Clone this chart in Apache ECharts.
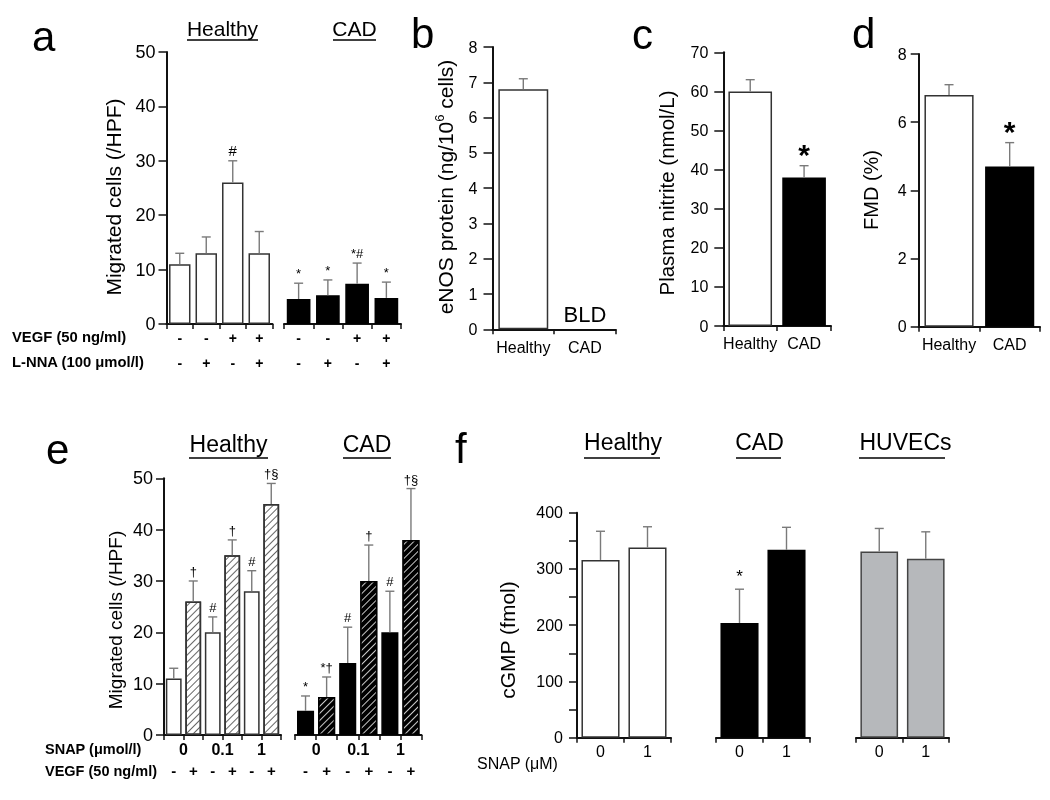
<!DOCTYPE html>
<html><head><meta charset="utf-8">
<script src="https://cdn.jsdelivr.net/npm/echarts@6/dist/echarts.min.js"></script>
<style>html,body{margin:0;padding:0;background:#fff}#c{width:1050px;height:800px;will-change:transform}</style>
</head><body><div id="c"></div>
<script>
// ---------------- DATA ----------------
// Panel a: migration, L-NNA inhibition
const aVegf = ['-', '-', '+', '+'];
const aLnna = ['-', '+', '-', '+'];
const aHealthy = [11, 13, 26, 13];
const aHealthyTop = [13, 16, 30, 17];
const aHealthyMarks = ['', '', '#', ''];
const aCad = [4.6, 5.3, 7.4, 4.8];
const aCadTop = [7.5, 8.1, 11.2, 7.7];
const aCadMarks = ['*', '*', '*#', '*'];
// Panel b: eNOS protein
const bGroups = ['Healthy', 'CAD'];
const bValues = [6.8, null];
const bTop = [7.1, null];
const bMarks = ['', 'BLD'];
// Panel c: plasma nitrite
const cGroups = ['Healthy', 'CAD'];
const cValues = [60, 38];
const cTop = [63, 41];
const cMarks = ['', '*'];
// Panel d: FMD
const dGroups = ['Healthy', 'CAD'];
const dValues = [6.8, 4.7];
const dTop = [7.1, 5.4];
const dMarks = ['', '*'];
// Panel e: SNAP / VEGF migration
const eSnap = ['0', '0.1', '1'];
const eVegf = ['-', '+', '-', '+', '-', '+'];
const eHealthy = [11, 26, 20, 35, 28, 45];
const eHealthyTop = [13, 30, 23, 38, 32, 49];
const eHealthyMarks = ['', '\u2020', '#', '\u2020', '#', '\u2020\u00a7'];
const eCad = [4.7, 7.4, 14, 30, 20, 38];
const eCadTop = [7.6, 11.3, 21, 37, 28, 48];
const eCadMarks = ['*', '*\u2020', '#', '\u2020', '#', '\u2020\u00a7'];
// Panel f: cGMP
const fSnap = ['0', '1'];
const fHealthy = [316, 338];
const fHealthyTop = [367, 375];
const fCad = [204, 334];
const fCadTop = [264, 374];
const fCadMarks = ['*', ''];
const fHuvec = [331, 318];
const fHuvecTop = [372, 366];
const fNoMarks = ['', ''];

// ---------------- STYLE ----------------
const FONT = '"Liberation Sans", Arial, Helvetica, sans-serif';
const AX = '#111';
const ERR = '#7a7a7a';
const WHITE = { color: '#ffffff', borderColor: '#333', borderWidth: 1.5 };
const BLACK = { color: '#000000', borderColor: '#000', borderWidth: 1.5 };
const GRAY = { color: '#b6b8bb', borderColor: '#444', borderWidth: 1.5 };
const hatchLight = { symbol: 'rect', symbolSize: 1, dashArrayX: [1, 0], dashArrayY: [1, 3.6], rotation: -Math.PI / 4, color: '#666' };
const hatchDark = { symbol: 'rect', symbolSize: 1, dashArrayX: [1, 0], dashArrayY: [1, 3.6], rotation: -Math.PI / 4, color: '#c8c8c8' };

// plot boxes [x0, x1, yTop, yBottom]
const boxes = [
  [166.5, 272.5, 52, 324],     // 0 a healthy
  [284, 401, 52, 324],         // 1 a CAD
  [492.5, 615.7, 47, 329.3],   // 2 b
  [723.3, 831, 52.3, 326],     // 3 c
  [918.7, 1040, 54, 326.7],    // 4 d
  [164, 281, 478.3, 735],      // 5 e healthy
  [295, 421.5, 478.3, 735],    // 6 e CAD
  [577, 671, 512.7, 737.7],    // 7 f healthy
  [716, 810, 512.7, 737.7],    // 8 f CAD
  [856, 949, 512.7, 737.7]     // 9 f HUVECs
];
const grid = boxes.map(b => ({ left: b[0], top: b[2], width: b[1] - b[0], height: b[3] - b[2] }));

function xCat(gi, labels, labelOpt) {
  return {
    type: 'category', gridIndex: gi, position: 'bottom',
    data: labels.map((l, i) => 'k' + gi + '_' + i),
    boundaryGap: true,
    axisLine: { show: true, lineStyle: { color: AX, width: 2 } },
    axisTick: { show: true, interval: 0, length: 5, lineStyle: { color: AX, width: 1.5 } },
    axisLabel: Object.assign({ show: true, interval: 0, color: '#000', fontFamily: FONT,
      formatter: (v, i) => labels[i] }, labelOpt || {}),
    splitLine: { show: false }
  };
}
function xLabelsOnly(gi, labels, labelOpt) {
  return {
    type: 'category', gridIndex: gi, position: 'bottom',
    data: labels.map((l, i) => 's' + gi + '_' + i),
    axisLine: { show: false }, axisTick: { show: false }, splitLine: { show: false },
    axisLabel: Object.assign({ show: true, interval: 0, color: '#000', fontFamily: FONT,
      formatter: (v, i) => labels[i] }, labelOpt || {})
  };
}
function yVal(gi, min, max, interval, show, opt) {
  return Object.assign({
    type: 'value', gridIndex: gi, min, max, interval, show,
    axisLine: { show: true, lineStyle: { color: AX, width: 2 } },
    axisTick: { show: true, length: 8, lineStyle: { color: AX, width: 1.5 } },
    axisLabel: { show: true, color: '#000', fontFamily: FONT, fontSize: 16, margin: 12 },
    splitLine: { show: false }
  }, opt || {});
}

function bars(xi, yi, values, styles, hatchFlags, hatch) {
  return {
    type: 'bar', xAxisIndex: xi, yAxisIndex: yi, barCategoryGap: '19%', silent: true,
    data: values.map((v, i) => {
      const st = Array.isArray(styles) ? styles[i] : styles;
      const it = Object.assign({}, st);
      if (hatchFlags && hatchFlags[i]) it.decal = hatch;
      return { value: v, itemStyle: it };
    })
  };
}
function errs(xi, yi, values, tops, marks, ms) {
  return {
    type: 'custom', xAxisIndex: xi, yAxisIndex: yi, z: 10, silent: true,
    data: values.map((v, i) => [i, v == null ? 0 : v, tops[i] == null ? NaN : tops[i]]),
    renderItem: (params, api) => {
      const idx = params.dataIndex;
      const x = api.coord([api.value(0), 0])[0];
      const yv = api.coord([api.value(0), api.value(1)])[1];
      const t = api.value(2);
      const ch = [];
      let yTop = yv;
      if (!isNaN(t)) {
        const yt = api.coord([api.value(0), t])[1];
        ch.push({ type: 'line', shape: { x1: x, y1: yv, x2: x, y2: yt }, style: { stroke: ERR, lineWidth: 1.4 } });
        ch.push({ type: 'line', shape: { x1: x - 4.5, y1: yt, x2: x + 4.5, y2: yt }, style: { stroke: ERR, lineWidth: 1.4 } });
        yTop = yt;
      }
      const m = marks && marks[idx];
      if (m) {
        ch.push({ type: 'text', x: x, y: yTop - ms.gap, style: {
          text: m, align: 'center', textAlign: 'center', verticalAlign: 'bottom', textVerticalAlign: 'bottom',
          fontSize: ms.size, fontFamily: FONT, fontWeight: ms.weight || 'normal', fill: '#000' } });
      }
      return { type: 'group', children: ch };
    }
  };
}

const xAxis = [
  xCat(0, aVegf.map((v, i) => v + '\n' + aLnna[i]), { fontSize: 14, fontWeight: 'bold', lineHeight: 25, margin: 1 }),
  xCat(1, aVegf.map((v, i) => v + '\n' + aLnna[i]), { fontSize: 14, fontWeight: 'bold', lineHeight: 25, margin: 1 }),
  xCat(2, bGroups, { fontSize: 16, margin: 10 }),
  xCat(3, cGroups, { fontSize: 16, margin: 9 }),
  xCat(4, dGroups, { fontSize: 16, margin: 10 }),
  xCat(5, eVegf, { fontSize: 15, fontWeight: 'bold', margin: 28 }),
  xCat(6, eVegf, { fontSize: 15, fontWeight: 'bold', margin: 28 }),
  xCat(7, fSnap, { fontSize: 16, margin: 6 }),
  xCat(8, fSnap, { fontSize: 16, margin: 6 }),
  xCat(9, fSnap, { fontSize: 16, margin: 6 }),
  xLabelsOnly(5, eSnap, { fontSize: 16, fontWeight: 'bold', margin: 6 }),
  xLabelsOnly(6, eSnap, { fontSize: 16, fontWeight: 'bold', margin: 6 })
];
const bigLab = { show: true, color: '#000', fontFamily: FONT, fontSize: 18, margin: 11 };
const tick9 = { show: true, length: 9, lineStyle: { color: AX, width: 1.5 } };
const yAxis = [
  yVal(0, 0, 50, 10, true, { axisLabel: bigLab }),
  yVal(1, 0, 50, 10, false),
  yVal(2, 0, 8, 1, true, { axisTick: tick9, axisLabel: { color: '#000', fontFamily: FONT, fontSize: 16, margin: 15 } }),
  yVal(3, 0, 70, 10, true, { axisTick: tick9, axisLabel: { color: '#000', fontFamily: FONT, fontSize: 16, margin: 15 } }),
  yVal(4, 0, 8, 2, true, { axisLabel: { color: '#000', fontFamily: FONT, fontSize: 16, margin: 12 } }),
  yVal(5, 0, 50, 10, true, { axisLabel: bigLab }),
  yVal(6, 0, 50, 10, false),
  yVal(7, 0, 400, 100, true, { minorTick: { show: true, splitNumber: 2, length: 8, lineStyle: { color: AX, width: 1.5 } }, axisLabel: { color: '#000', fontFamily: FONT, fontSize: 16, margin: 14 } }),
  yVal(8, 0, 400, 100, false),
  yVal(9, 0, 400, 100, false)
];

const eHatch = eVegf.map(v => v === '+');
const small = { size: 13, gap: 3 };
const bigStar = { size: 30, gap: -4, weight: 'bold' };
const series = [
  bars(0, 0, aHealthy, WHITE), errs(0, 0, aHealthy, aHealthyTop, aHealthyMarks, { size: 15, gap: 3 }),
  bars(1, 1, aCad, BLACK), errs(1, 1, aCad, aCadTop, aCadMarks, small),
  bars(2, 2, bValues, WHITE), errs(2, 2, bValues, bTop, bMarks, { size: 22, gap: 4 }),
  bars(3, 3, cValues, [WHITE, BLACK]), errs(3, 3, cValues, cTop, cMarks, bigStar),
  bars(4, 4, dValues, [WHITE, BLACK]), errs(4, 4, dValues, dTop, dMarks, bigStar),
  bars(5, 5, eHealthy, WHITE, eHatch, hatchLight), errs(5, 5, eHealthy, eHealthyTop, eHealthyMarks, small),
  bars(6, 6, eCad, BLACK, eHatch, hatchDark), errs(6, 6, eCad, eCadTop, eCadMarks, small),
  bars(7, 7, fHealthy, WHITE), errs(7, 7, fHealthy, fHealthyTop, fNoMarks, small),
  bars(8, 8, fCad, BLACK), errs(8, 8, fCad, fCadTop, fCadMarks, { size: 17, gap: 4 }),
  bars(9, 9, fHuvec, GRAY), errs(9, 9, fHuvec, fHuvecTop, fNoMarks, small)
];

// ---------------- TEXT (graphic) ----------------
function txt(text, x, y, size, opt) {
  return Object.assign({ type: 'text', x, y, silent: true, style: Object.assign({
    text, fontSize: size, fontFamily: FONT, fill: '#000',
    align: 'center', textAlign: 'center', verticalAlign: 'middle', textVerticalAlign: 'middle' }, (opt && opt.style) || {}) },
    opt && opt.el || {});
}
function ul(x1, x2, y) {
  return { type: 'line', silent: true, shape: { x1, y1: y, x2, y2: y }, style: { stroke: '#000', lineWidth: 1.6 } };
}
const left = { style: { align: 'left', textAlign: 'left' } };
const leftBold = { style: { align: 'left', textAlign: 'left', fontWeight: 'bold' } };
const vert = { el: { rotation: Math.PI / 2 } };
const graphic = [
  // panel letters
  txt('a', 32, 36, 42, left), txt('b', 411, 33, 42, left), txt('c', 632, 34, 42, left),
  txt('d', 852, 33, 42, left), txt('e', 46, 449, 42, left), txt('f', 455, 448, 42, left),
  // group titles
  txt('Healthy', 222.5, 28, 21), ul(187, 258, 40),
  txt('CAD', 354.5, 28, 21), ul(333, 376, 40),
  txt('Healthy', 228.5, 444, 23), ul(189, 268, 458),
  txt('CAD', 367, 444, 23), ul(343, 391, 458),
  txt('Healthy', 623, 442, 23), ul(584, 660, 458),
  txt('CAD', 759.5, 442, 23), ul(736, 781, 458),
  txt('HUVECs', 905.5, 442, 23), ul(859, 945, 458),
  // row labels
  txt('VEGF (50 ng/ml)', 12, 337, 14.8, leftBold),
  txt('L-NNA (100 \u03bcmol/l)', 12, 362, 14.8, leftBold),
  txt('SNAP (\u03bcmol/l)', 45, 749, 14.5, leftBold),
  txt('VEGF (50 ng/ml)', 45, 771, 14.5, leftBold),
  txt('SNAP (\u03bcM)', 477, 763, 16, left),
  // y-axis titles
  txt('Migrated cells (/HPF)', 113, 197, 21, vert),
  { type: 'text', x: 445, y: 187, rotation: Math.PI / 2, silent: true, style: {
      text: 'eNOS protein (ng/10{s|6} cells)', fontSize: 21, fontFamily: FONT, fill: '#000',
      align: 'center', textAlign: 'center', verticalAlign: 'middle', textVerticalAlign: 'middle',
      rich: { s: { fontSize: 13, fontFamily: FONT, verticalAlign: 'top', fill: '#000', lineHeight: 24 } } } },
  txt('Plasma nitrite (nmol/L)', 666, 193, 20.5, vert),
  txt('FMD (%)', 871, 190, 20, vert),
  txt('Migrated cells (/HPF)', 115, 620, 19, vert),
  txt('cGMP (fmol)', 507, 640, 21, vert)
];

const chart = echarts.init(document.getElementById('c'), null, { renderer: 'svg', width: 1050, height: 800 });
chart.setOption({
  animation: false,
  backgroundColor: '#ffffff',
  textStyle: { fontFamily: FONT },
  grid, xAxis, yAxis, series, graphic
});
</script></body></html>
